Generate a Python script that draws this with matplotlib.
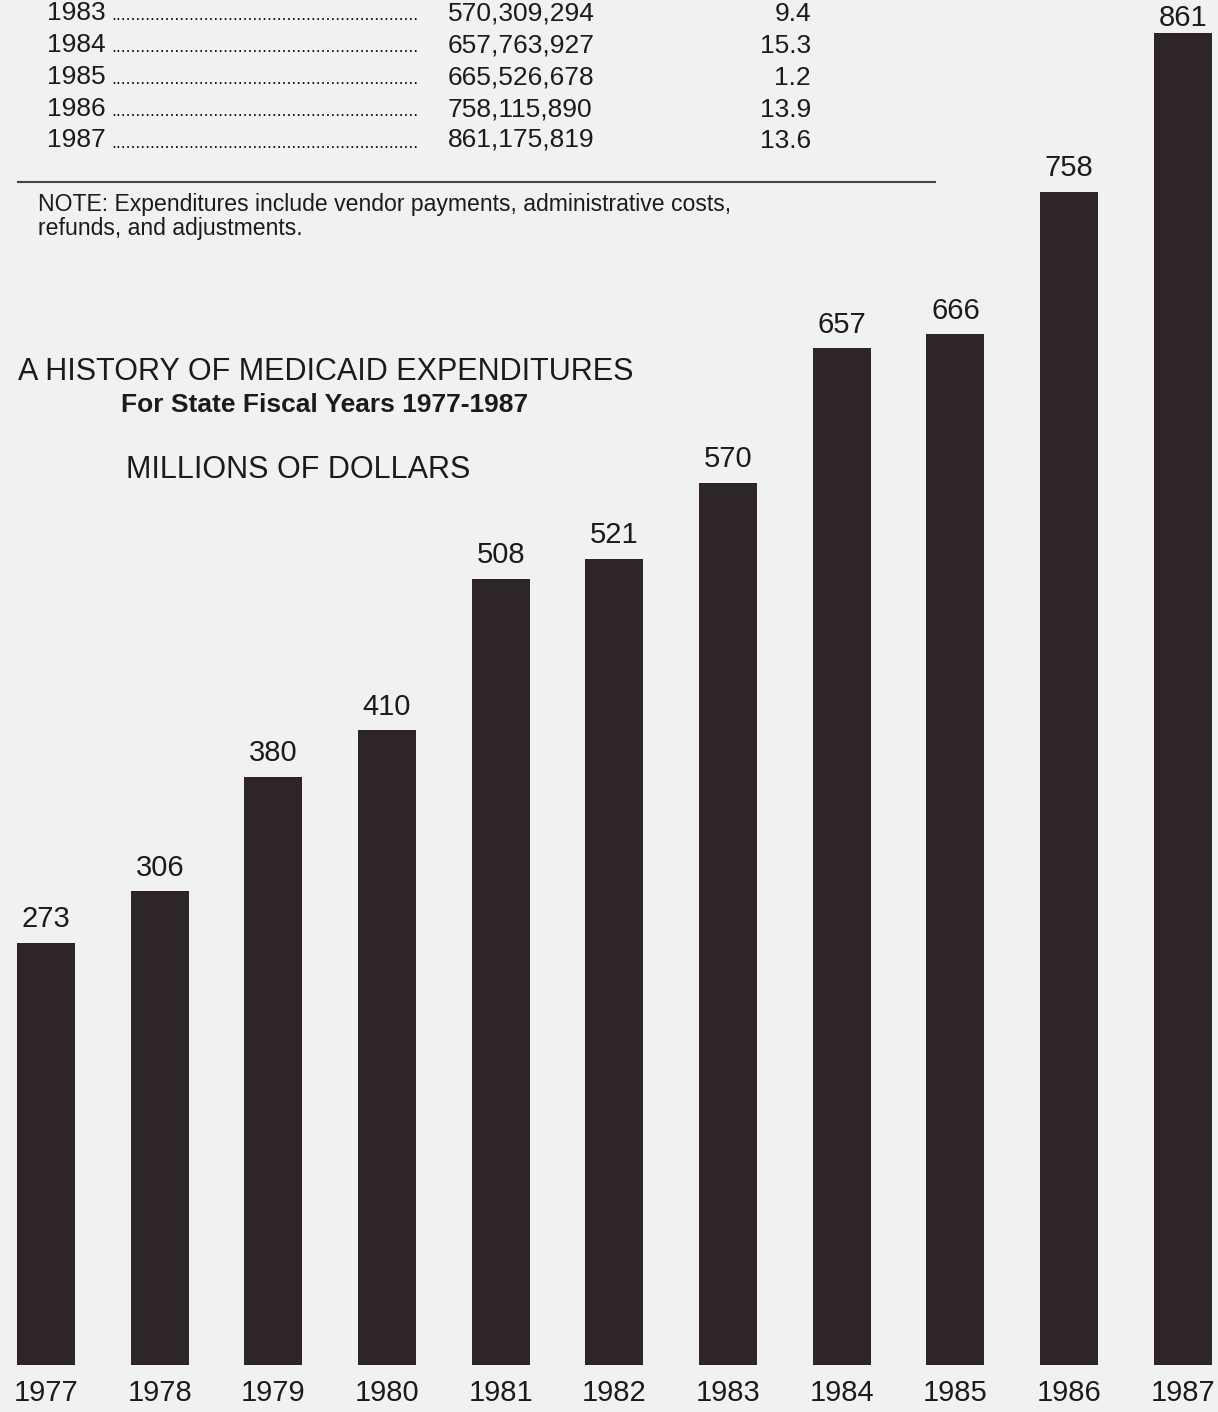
import matplotlib.pyplot as plt

years = ['1977', '1978', '1979', '1980', '1981', '1982',
         '1983', '1984', '1985', '1986', '1987']
millions = [273, 306, 380, 410, 508, 521, 570, 657, 666, 758, 861]

table_years = ['1983', '1984', '1985', '1986', '1987']
table_amounts = ['570,309,294', '657,763,927', '665,526,678', '758,115,890', '861,175,819']
table_pct = ['9.4', '15.3', '1.2', '13.9', '13.6']

W, H = 1218, 1412
paper = '#f1f1f0'
ink = '#1e1a1a'
bar_color = '#2e2527'
font = 'Liberation Sans'

fig = plt.figure(figsize=(W / 100, H / 100), dpi=100, facecolor=paper)


def fx(px):
    return px / W


def fy(py):
    return 1 - py / H


# table fragment at the top of the page
row_y = [13, 45, 77, 109, 140]
for y, yr, amt, pct in zip(row_y, table_years, table_amounts, table_pct):
    fig.text(fx(47), fy(y), yr, fontsize=19, family=font, color=ink, va='center')
    fig.text(fx(111), fy(y + 3), '.' * 63, fontsize=13, family=font, color=ink, va='center')
    fig.text(fx(448), fy(y), amt, fontsize=19, family=font, color=ink, va='center')
    fig.text(fx(811), fy(y + 1), pct, fontsize=19, family=font, color=ink, va='center', ha='right')

fig.add_artist(plt.Line2D([fx(18), fx(935)], [fy(182), fy(182)], color='#444444', lw=1.5))
fig.text(fx(38), fy(204), 'NOTE: Expenditures include vendor payments, administrative costs,',
         fontsize=16.6, family=font, color=ink, va='center')
fig.text(fx(38), fy(229), 'refunds, and adjustments.',
         fontsize=16.6, family=font, color=ink, va='center')

# chart titles
fig.text(fx(326), fy(372), 'A HISTORY OF MEDICAID EXPENDITURES',
         fontsize=22, family=font, color=ink, va='center', ha='center')
fig.text(fx(325), fy(405), 'For State Fiscal Years 1977-1987',
         fontsize=19, family=font, color=ink, va='center', ha='center', weight='bold')
fig.text(fx(298), fy(470), 'MILLIONS OF DOLLARS',
         fontsize=22, family=font, color=ink, va='center', ha='center')

# bars
base = 1365
top = 882
ax = fig.add_axes([0, (H - base) / H, 1, base / H])
ax.set_facecolor('none')
x = list(range(len(years)))
ax.bar(x, millions, width=0.51, color=bar_color)
ax.set_xlim(-0.405, 10.31)
ax.set_ylim(0, top)
ax.axis('off')

for xi, v, yr in zip(x, millions, years):
    ax.text(xi, min(v + 10, top - 17), str(v), ha='center', va='baseline',
            fontsize=21, family=font, color=ink, clip_on=False)
    ax.text(xi, -18, yr, ha='center', va='center', fontsize=21, family=font, color=ink, clip_on=False)

fig.savefig('out.png', dpi=100, facecolor=paper)
